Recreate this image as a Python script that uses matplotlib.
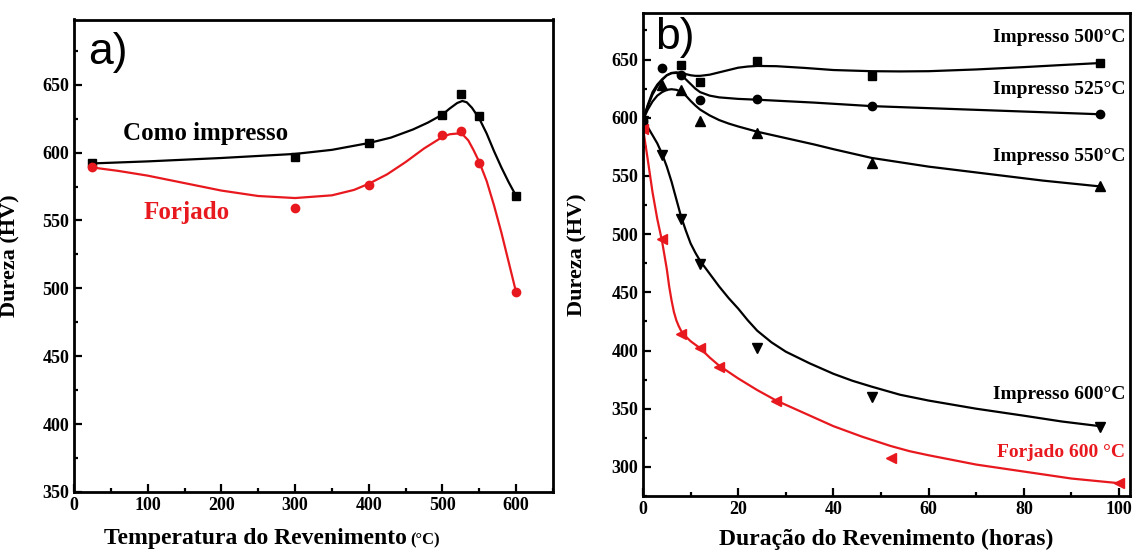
import matplotlib
matplotlib.use('Agg')
import matplotlib.pyplot as plt
from matplotlib.ticker import MultipleLocator

plt.rcParams['font.family'] = 'Liberation Serif'
plt.rcParams['font.weight'] = 'bold'

# ---- panel a: hardness vs tempering temperature ----
temp_a = [25, 300, 400, 500, 525, 550, 600]
como_impresso = [592, 597, 607, 628, 643, 627, 568]
forjado = [589, 559, 576, 613, 616, 592, 497]

# fitted curves, points
fit_a_x_black = [25, 100, 200, 250, 300, 350, 400, 430, 460, 480, 500, 510, 520, 527, 533, 540,
                 550, 560, 570, 580, 590, 600]
fit_a_y_black = [592, 593.5, 596, 597.5, 599, 602, 607, 611, 617, 622, 628, 632.5, 636.5, 638, 637, 633,
                 625, 614, 601, 589, 578, 568]
fit_a_x_red = [25, 60, 100, 150, 200, 250, 300, 350, 380, 400, 425, 450, 475, 500, 510, 520, 528,
               535, 542, 550, 560, 570, 580, 590, 600]
fit_a_y_red = [589, 586.5, 583, 577.5, 572, 568, 566.5, 568.5, 572.5, 577, 584, 593, 603, 611.5, 613.5, 614, 613,
               609, 602, 593, 579, 561, 541, 519, 497]

# ---- panel b: hardness vs tempering time ----
t_500 = [0, 8, 12, 24, 48, 96]
hv_500 = [597, 645, 631, 649, 636, 647]
t_525 = [0, 4, 8, 12, 24, 48, 96]
hv_525 = [597, 643, 637, 615, 616, 610, 603]
t_550 = [0, 4, 8, 12, 24, 48, 96]
hv_550 = [597, 628, 624, 597, 587, 561, 541]
t_600 = [0, 4, 8, 12, 24, 48, 96]
hv_600 = [597, 568, 513, 474, 402, 360, 334]
t_forj = [0, 4, 8, 12, 16, 28, 52, 100]
hv_forj = [590, 496, 414, 402, 386, 357, 308, 286]

fit_500_x = [0, 1, 2, 3, 4, 5, 6, 7, 8, 9, 10, 11, 12, 14, 16, 18, 20, 22, 24, 28, 34, 40, 48, 54,
             60, 70, 80, 88, 96]
fit_500_y = [598, 610, 620, 627, 632.5, 636.5, 638.5, 639, 638.5, 637.5, 636.5, 636, 636, 637, 639, 641, 643,
             644, 644.5, 644.3, 642.8, 641, 640, 639.8, 640, 641.5, 643.5, 645.3, 647]
fit_525_x = [0, 1, 2, 3, 4, 5, 6, 7, 8, 9, 10, 11, 12, 14, 16, 20, 24, 36, 48, 72, 96]
fit_525_y = [598, 611, 622, 628.5, 633, 636.5, 638.3, 638.5, 637, 633, 629, 625, 622, 619, 617.5, 616.2,
             615.5, 613, 610, 606.5, 603]
fit_550_x = [0, 1, 2, 3, 4, 5, 6, 7, 8, 9, 10, 11, 12, 14, 16, 18, 20, 24, 30, 36, 40, 48, 60, 72,
             84, 96]
fit_550_y = [598, 607, 614, 619, 622, 624, 624.5, 624, 622.5, 619, 614.5, 610.5, 607, 602, 598, 595, 592.5,
             588, 582.5, 577, 573, 565.5, 558, 552, 546, 541]
fit_600_x = [0, 1, 2, 3, 4, 5, 6, 7, 8, 9, 10, 11, 12, 14, 16, 18, 20, 22, 24, 27, 30, 35, 40, 44,
             48, 54, 60, 70, 80, 88, 96]
fit_600_y = [596, 592, 585, 578, 569, 558, 545, 530, 515, 503, 492, 484, 477, 466, 455, 445, 436, 426,
             417, 407, 399, 389, 380, 374, 369, 362, 357, 350, 344, 339, 335]
fit_forj_x = [0, 1, 2, 3, 4, 5, 5.5, 6, 6.5, 7, 7.5, 8, 9, 10, 12, 14, 16, 20, 24, 28, 34, 40, 46,
              52, 56, 60, 70, 80, 90, 100]
fit_forj_y = [591, 564, 536, 513, 494, 470, 455, 443, 433, 426, 421, 417, 412, 408, 402, 394, 387, 376,
              366, 357, 346, 335, 326, 318, 313.5, 310, 302, 296, 290, 286]

W, H = 1137, 552
fig = plt.figure(figsize=(W / 100, H / 100), dpi=100)
ax1 = fig.add_axes([74 / W, 1 - 492 / H, 479 / W, 472.5 / H])
ax2 = fig.add_axes([643 / W, 1 - 496 / H, 487 / W, 483 / H])

red = '#e8191e'

# panel a
ax1.plot(fit_a_x_black, fit_a_y_black, '-', color='k', lw=1.6)
ax1.plot(fit_a_x_red, fit_a_y_red, '-', color=red, lw=1.6)
ax1.plot(temp_a, como_impresso, 's', color='k', ms=6)
ax1.plot(temp_a, forjado, 'o', color=red, ms=6)
ax1.set_xlim(0, 650)
ax1.set_ylim(350, 698)
ax1.xaxis.set_major_locator(MultipleLocator(100))
ax1.xaxis.set_minor_locator(MultipleLocator(50))
ax1.yaxis.set_major_locator(MultipleLocator(50))
ax1.yaxis.set_minor_locator(MultipleLocator(25))
ax1.text(66, 614, 'Como impresso', color='k', fontsize=18, fontweight='bold', va='center')
ax1.text(94, 556, 'Forjado', color=red, fontsize=18, fontweight='bold', va='center')
ax1.text(0.03, 0.905, 'a)', transform=ax1.transAxes, fontsize=32, fontweight='normal',
         family='Liberation Sans', va='baseline')

# panel b
for fx, fy, c in [(fit_500_x, fit_500_y, 'k'), (fit_525_x, fit_525_y, 'k'),
                  (fit_550_x, fit_550_y, 'k'), (fit_600_x, fit_600_y, 'k'),
                  (fit_forj_x, fit_forj_y, red)]:
    ax2.plot(fx, fy, '-', color=c, lw=1.6)
ax2.plot(t_500, hv_500, 's', color='k', ms=6)
ax2.plot(t_525, hv_525, 'o', color='k', ms=6)
ax2.plot(t_550, hv_550, '^', color='k', ms=7)
ax2.plot(t_600, hv_600, 'v', color='k', ms=7)
ax2.plot(t_forj, hv_forj, '<', color=red, ms=7)
ax2.set_xlim(0, 102.3)
ax2.set_ylim(275, 690)
ax2.xaxis.set_major_locator(MultipleLocator(20))
ax2.xaxis.set_minor_locator(MultipleLocator(10))
ax2.yaxis.set_major_locator(MultipleLocator(50))
ax2.yaxis.set_minor_locator(MultipleLocator(25))
for yl, lab, c in [(669, 'Impresso 500°C', 'k'), (624, 'Impresso 525°C', 'k'),
                   (567, 'Impresso 550°C', 'k'), (362, 'Impresso 600°C', 'k'),
                   (312, 'Forjado 600 °C', red)]:
    ax2.text(101.3, yl, lab, color=c, fontsize=14, fontweight='bold', ha='right', va='center')
ax2.text(0.025, 0.925, 'b)', transform=ax2.transAxes, fontsize=32, fontweight='normal',
         family='Liberation Sans', va='baseline')

for ax in (ax1, ax2):
    for s in ax.spines.values():
        s.set_linewidth(2)
    ax.tick_params(which='both', direction='in', top=False, right=False, width=1.6,
                   labelsize=13)
    ax.tick_params(which='major', length=6)
    ax.tick_params(which='minor', length=3)
    for lab in ax.get_xticklabels() + ax.get_yticklabels():
        lab.set_fontweight('bold')
    ax.set_ylabel('Dureza (HV)', fontsize=16, fontweight='bold')

ax1.yaxis.set_label_coords(-54 / 479, 0.5)
ax2.yaxis.set_label_coords(-56 / 487, 0.5)
ax2.set_xlabel('Duração do Revenimento (horas)', fontsize=17, fontweight='bold', labelpad=8)

fig.text(407 / W, 1 - 544 / H, 'Temperatura do Revenimento', fontsize=17,
         fontweight='bold', ha='right', va='baseline')
fig.text(410 / W, 1 - 544 / H, '(°C)', fontsize=12, fontweight='bold', ha='left', va='baseline')

fig.savefig('out.png', dpi=100)
